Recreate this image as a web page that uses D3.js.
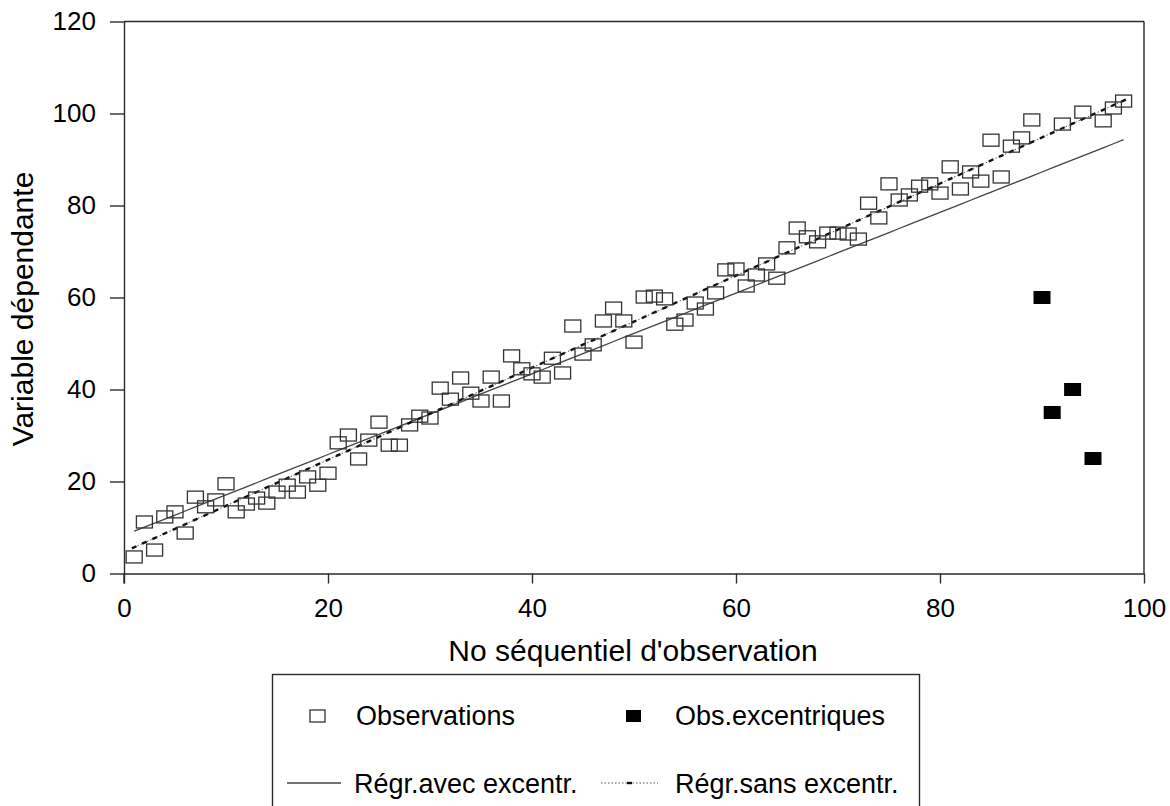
<!DOCTYPE html>
<html>
<head>
<meta charset="utf-8">
<script src="https://cdn.jsdelivr.net/npm/d3@7"></script>
<style>
  html, body { margin: 0; padding: 0; background: #fff; }
  svg { display: block; font-family: "Liberation Sans", Arial, sans-serif; }
</style>
</head>
<body>
<svg id="chart" width="1170" height="806"></svg>
<script>
// Sequential observation numbers and dependent variable values
const obsX = [
  1, 2, 3, 4, 5, 6, 7, 8, 9, 10,
  11, 12, 13, 14, 15, 16, 17, 18, 19, 20,
  21, 22, 23, 24, 25, 26, 27, 28, 29, 30,
  31, 32, 33, 34, 35, 36, 37, 38, 39, 40,
  41, 42, 43, 44, 45, 46, 47, 48, 49, 50,
  51, 52, 53, 54, 55, 56, 57, 58, 59, 60,
  61, 62, 63, 64, 65, 66, 67, 68, 69, 70,
  71, 72, 73, 74, 75, 76, 77, 78, 79, 80,
  81, 82, 83, 84, 85, 86, 87, 88, 89, 92,
  94, 96, 97, 98
];
const obsY = [
  3.6, 11.2, 5.1, 12.3, 13.4, 8.8, 16.6, 14.5, 16.0, 19.5,
  13.4, 15.1, 16.4, 15.3, 17.7, 19.2, 17.7, 21.0, 19.2, 21.8,
  28.4, 30.1, 24.9, 29.0, 32.9, 27.9, 27.9, 32.3, 34.2, 33.8,
  40.3, 37.9, 42.5, 39.2, 37.5, 42.7, 37.5, 47.3, 44.5, 43.4,
  42.7, 46.8, 43.6, 53.8, 47.7, 49.7, 54.9, 57.7, 54.9, 50.3,
  60.1, 60.3, 59.7, 54.2, 55.1, 58.8, 57.5, 61.0, 66.0, 66.2,
  62.5, 64.9, 67.3, 64.2, 70.8, 75.1, 73.2, 72.1, 74.0, 74.0,
  73.8, 72.7, 80.5, 77.3, 84.7, 81.2, 82.3, 84.2, 84.7, 82.7,
  88.4, 83.6, 87.3, 85.3, 94.2, 86.2, 92.9, 94.7, 98.6, 97.7,
  100.3, 98.4, 101.2, 102.7
];

// Outlying observations
const outX = [90, 91, 93, 95];
const outY = [60, 35, 40, 25];

// Fitted regression lines: [fitted value at first obs, fitted value at last obs]
const fitRange = [1, 98];
const fitWith = [9.2, 94.3];      // regression including the outliers
const fitWithout = [5.7, 102.8];  // regression excluding the outliers

// Axis ticks
const xTicks = [0, 20, 40, 60, 80, 100];
const yTicks = [0, 20, 40, 60, 80, 100, 120];

// Labels
const xTitle = "No séquentiel d'observation";
const yTitle = "Variable dépendante";
const legendLabels = ["Observations", "Obs.excentriques", "Régr.avec excentr.", "Régr.sans excentr."];

const svg = d3.select("#chart");
const plotLeft = 124, plotRight = 1144, plotTop = 21.5, plotBottom = 573.5;

const x = d3.scaleLinear().domain([0, 100]).range([plotLeft, plotRight]);
const y = d3.scaleLinear().domain([0, 120]).range([plotBottom, plotTop]);

const ink = "#2a2a2a";

// Frame: top and right edges
svg.append("line").attr("x1", plotLeft).attr("x2", plotRight).attr("y1", plotTop).attr("y2", plotTop)
  .attr("stroke", ink).attr("stroke-width", 1.4);
svg.append("line").attr("x1", plotRight).attr("x2", plotRight).attr("y1", plotTop).attr("y2", plotBottom)
  .attr("stroke", ink).attr("stroke-width", 1.4);

// Axes
const xAxis = d3.axisBottom(x).tickValues(xTicks).tickSize(10).tickSizeOuter(0).tickPadding(15);
const yAxis = d3.axisLeft(y).tickValues(yTicks).tickSize(14).tickSizeOuter(0).tickPadding(14);

const gx = svg.append("g").attr("transform", `translate(0,${plotBottom})`).call(xAxis);
const gy = svg.append("g").attr("transform", `translate(${plotLeft},0)`).call(yAxis);

[gx, gy].forEach(g => {
  g.select(".domain").attr("stroke", ink).attr("stroke-width", 1.4);
  g.selectAll(".tick line").attr("stroke", ink).attr("stroke-width", 1.4);
  g.selectAll(".tick text").attr("fill", "#000").style("font-size", "26px")
    .style("font-family", "'Liberation Sans', Arial, sans-serif");
});
// extend the vertical axis below the origin to the tick length
svg.append("line").attr("x1", plotLeft).attr("x2", plotLeft).attr("y1", plotBottom).attr("y2", plotBottom + 10)
  .attr("stroke", ink).attr("stroke-width", 1.4);

// Axis titles
svg.append("text").attr("x", 633).attr("y", 661).attr("text-anchor", "middle")
  .style("font-size", "30px").attr("fill", "#000").text(xTitle);
svg.append("text").attr("transform", `translate(33,${309}) rotate(-90)`)
  .attr("text-anchor", "middle").style("font-size", "30px").attr("fill", "#000").text(yTitle);

// Regression lines
const fitPts = (f) => {
  const s = d3.scaleLinear().domain(fitRange).range(f);
  return d3.range(fitRange[0], fitRange[1] + 1).map(v => [v, s(v)]);
};
const line = d3.line().x(d => x(d[0])).y(d => y(d[1]));

const plot = svg.append("g");

plot.append("path").datum(fitPts(fitWith)).attr("d", line)
  .attr("fill", "none").attr("stroke", "#444").attr("stroke-width", 1.3);

const without = fitPts(fitWithout);
plot.append("path").datum(without).attr("d", line)
  .attr("fill", "none").attr("stroke", "#555").attr("stroke-width", 1)
  .attr("stroke-dasharray", "1.5,2");
// small markers at each fitted point of the second regression
const ang = Math.atan2(y(fitWithout[1]) - y(fitWithout[0]), x(fitRange[1]) - x(fitRange[0]));
plot.selectAll(".fm").data(without).enter().append("line")
  .attr("x1", d => x(d[0]) - 2.5 * Math.cos(ang)).attr("y1", d => y(d[1]) - 2.5 * Math.sin(ang))
  .attr("x2", d => x(d[0]) + 2.5 * Math.cos(ang)).attr("y2", d => y(d[1]) + 2.5 * Math.sin(ang))
  .attr("stroke", "#111").attr("stroke-width", 2.4);

// Observations (hollow squares)
const obs = obsX.map((v, i) => [v, obsY[i]]);
const sw = 16, sh = 12;
plot.selectAll(".obs").data(obs).enter().append("rect")
  .attr("x", d => x(d[0]) - sw / 2).attr("y", d => y(d[1]) - sh / 2)
  .attr("width", sw).attr("height", sh)
  .attr("fill", "none").attr("stroke", "#333").attr("stroke-width", 1.3);

// Outliers (filled squares)
const outs = outX.map((v, i) => [v, outY[i]]);
plot.selectAll(".out").data(outs).enter().append("rect")
  .attr("x", d => x(d[0]) - 8.5).attr("y", d => y(d[1]) - 6.5)
  .attr("width", 17).attr("height", 13)
  .attr("fill", "#000");

// Legend
const lg = svg.append("g");
lg.append("rect").attr("x", 272.5).attr("y", 674.5).attr("width", 647).attr("height", 150)
  .attr("fill", "none").attr("stroke", ink).attr("stroke-width", 1.4);

const legendFont = "27px";
lg.append("rect").attr("x", 310).attr("y", 710).attr("width", 15).attr("height", 12)
  .attr("fill", "none").attr("stroke", "#333").attr("stroke-width", 1.3);
lg.append("text").attr("x", 356).attr("y", 725).style("font-size", legendFont).text(legendLabels[0]);

lg.append("rect").attr("x", 626).attr("y", 710).attr("width", 15).attr("height", 12).attr("fill", "#000");
lg.append("text").attr("x", 675).attr("y", 725).style("font-size", legendFont).text(legendLabels[1]);

lg.append("line").attr("x1", 287).attr("x2", 341).attr("y1", 783).attr("y2", 783)
  .attr("stroke", "#444").attr("stroke-width", 1.3);
lg.append("text").attr("x", 354).attr("y", 793).style("font-size", legendFont).text(legendLabels[2]);

lg.append("line").attr("x1", 601).attr("x2", 658).attr("y1", 783).attr("y2", 783)
  .attr("stroke", "#555").attr("stroke-width", 1).attr("stroke-dasharray", "1.5,2");
lg.append("line").attr("x1", 627).attr("x2", 632).attr("y1", 783).attr("y2", 783)
  .attr("stroke", "#111").attr("stroke-width", 2.4);
lg.append("text").attr("x", 675).attr("y", 793).style("font-size", legendFont).text(legendLabels[3]);
</script>
</body>
</html>
